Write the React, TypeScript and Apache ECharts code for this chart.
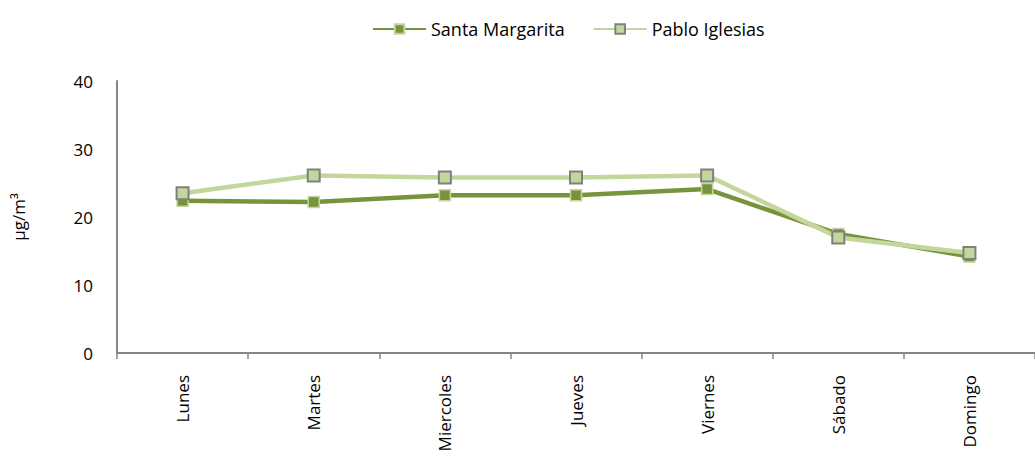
import React, { useEffect, useRef } from "react";
import * as echarts from "echarts";

const categories = ["Lunes", "Martes", "Miercoles", "Jueves", "Viernes", "Sábado", "Domingo"];
const santaMargarita = [22.4, 22.2, 23.2, 23.2, 24.1, 17.5, 14.2];
const pabloIglesias = [23.5, 26.1, 25.8, 25.8, 26.1, 17.0, 14.7];
const yTicks = [0, 10, 20, 30, 40];

const FONT = "'Open Sans', Lato, sans-serif";

export default function App() {
  const ref = useRef<HTMLDivElement>(null);
  useEffect(() => {
    const chart = echarts.init(ref.current!, null, { renderer: "svg" });
    chart.setOption({
      animation: false,
      legend: {
        top: 15,
        left: 367,
        itemWidth: 53,
        itemHeight: 12,
        itemGap: 28,
        textStyle: { fontFamily: FONT, fontSize: 18, color: "#000" },
        data: ["Santa Margarita", "Pablo Iglesias"],
      },
      grid: { left: 117, top: 81, width: 927, height: 272, containLabel: false },
      xAxis: {
        type: "category",
        data: categories,
        boundaryGap: true,
        axisLine: { lineStyle: { color: "#868686", width: 2 } },
        axisTick: { show: true, length: 6, lineStyle: { color: "#868686", width: 1.5 } },
        axisLabel: {
          rotate: 90,
          margin: 22,
          fontFamily: FONT,
          fontSize: 17,
          color: "#000",
        },
      },
      yAxis: {
        type: "value",
        min: yTicks[0],
        max: yTicks[yTicks.length - 1],
        interval: 10,
        name: "µg/m³",
        nameLocation: "middle",
        nameGap: 90,
        nameRotate: 90,
        nameTextStyle: { fontFamily: FONT, fontSize: 17, color: "#000" },
        axisLine: { show: true, lineStyle: { color: "#868686", width: 2 } },
        axisTick: { show: false },
        splitLine: { show: false },
        axisLabel: { fontFamily: FONT, fontSize: 17, color: "#000", margin: 24 },
      },
      series: [
        {
          name: "Santa Margarita",
          type: "line",
          data: santaMargarita,
          symbol: "rect",
          symbolSize: 11,
          lineStyle: { color: "#77933C", width: 4.5 },
          itemStyle: { color: "#77933C", borderColor: "#C3D69B", borderWidth: 1.5 },
          z: 2,
        },
        {
          name: "Pablo Iglesias",
          type: "line",
          data: pabloIglesias,
          symbol: "rect",
          symbolSize: 12,
          lineStyle: { color: "#C3D69B", width: 4.5 },
          itemStyle: { color: "#C3D69B", borderColor: "#808080", borderWidth: 2 },
          z: 3,
        },
      ],
    });
    return () => chart.dispose();
  }, []);
  return (
    <div
      ref={ref}
      style={{ position: "fixed", left: 0, top: 0, width: 1035, height: 457, background: "#fff" }}
    />
  );
}
